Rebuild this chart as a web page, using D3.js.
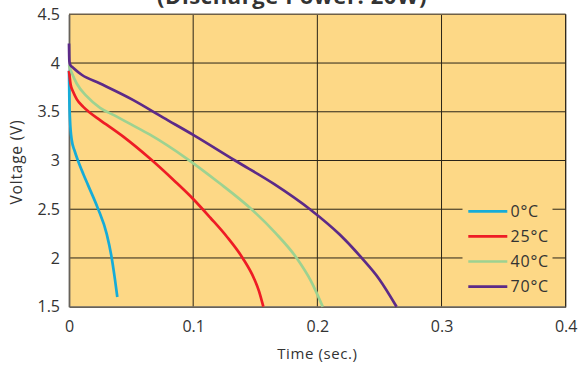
<!DOCTYPE html>
<html><head><meta charset="utf-8">
<script src="https://cdn.jsdelivr.net/npm/d3@7"></script>
<style>body{margin:0;background:#fff}svg{display:block}text{font-family:"Open Sans",sans-serif;fill:#333}</style>
</head><body><svg id="c" width="581" height="367"></svg>
<script>
const title = "(Discharge Power: 20W)";
const xLabel = "Time (sec.)";
const yLabel = "Voltage (V)";
const xTicks = [0, 0.1, 0.2, 0.3, 0.4];
const yTicks = [1.5, 2, 2.5, 3, 3.5, 4, 4.5];
const seriesNames = ["0°C", "25°C", "40°C", "70°C"];
const colors = ["#16acd8", "#ee1c25", "#9dd291", "#5c2a88"];

const t0 = [0, 0.0003, 0.0008, 0.0022, 0.0045, 0.0075, 0.0115, 0.0155, 0.0231, 0.0304, 0.0344, 0.037, 0.0389];
const v0 = [3.92, 3.62, 3.42, 3.21, 3.1, 2.99, 2.862, 2.742, 2.514, 2.244, 2.0, 1.78, 1.6];
const t25 = [0, 0.0013, 0.0035, 0.0062, 0.0115, 0.0169, 0.025, 0.0437, 0.0652, 0.085, 0.1, 0.114, 0.127, 0.1398, 0.149, 0.153, 0.1565];
const v25 = [3.92, 3.78, 3.7, 3.63, 3.55, 3.49, 3.415, 3.245, 3.02, 2.79, 2.605, 2.41, 2.22, 2.0, 1.79, 1.66, 1.5];
const t40 = [0, 0.001, 0.0022, 0.0062, 0.0142, 0.025, 0.037, 0.05, 0.0652, 0.0948, 0.12, 0.147, 0.166, 0.1833, 0.195, 0.2043];
const v40 = [3.98, 3.94, 3.9, 3.79, 3.66, 3.54, 3.46, 3.37, 3.265, 3.02, 2.78, 2.5, 2.26, 2.0, 1.76, 1.5];
const t70 = [0, 0.0003, 0.001, 0.0035, 0.0102, 0.025, 0.0518, 0.0759, 0.1, 0.1337, 0.165, 0.194, 0.218, 0.2357, 0.25, 0.2638];
const v70 = [4.2, 4.02, 3.98, 3.95, 3.88, 3.79, 3.62, 3.44, 3.263, 3.0, 2.76, 2.5, 2.24, 2.0, 1.78, 1.5];

const seriesT = [t0, t25, t40, t70];
const seriesV = [v0, v25, v40, v70];

const svg = d3.select("#c");
const m = {l: 69, r: 15.3, t: 14.3, b: 60.3};
const W = 581, H = 367;
const x = d3.scaleLinear().domain([0, 0.4]).range([m.l, W - m.r]);
const y = d3.scaleLinear().domain([1.5, 4.5]).range([H - m.b, m.t]);

// background
svg.append("rect").attr("x", x(0)).attr("y", y(4.5)).attr("width", x(0.4) - x(0)).attr("height", y(1.5) - y(4.5)).attr("fill", "#fdd886");

// grid
const g = svg.append("g");
g.selectAll("line.v").data(xTicks.slice(1)).join("line")
  .attr("x1", d => x(d)).attr("x2", d => x(d)).attr("y1", y(4.5)).attr("y2", y(1.5))
  .attr("stroke", "#2a2418").attr("stroke-width", 1);
g.selectAll("line.h").data(yTicks.slice(1, -1)).join("line")
  .attr("x1", x(0)).attr("x2", x(0.4)).attr("y1", d => y(d)).attr("y2", d => y(d))
  .attr("stroke", "#2a2418").attr("stroke-width", 1);
// top border
svg.append("line").attr("x1", x(0)).attr("x2", x(0.4)).attr("y1", y(4.5)).attr("y2", y(4.5)).attr("stroke", "#6e6048").attr("stroke-width", 1.6);

// legend box (covers grid)
const legX = 462.5, legY = 197;
svg.append("rect").attr("x", legX).attr("y", legY).attr("width", 90).attr("height", 102).attr("fill", "#fdd886");

// axes
const xAxis = d3.axisBottom(x).tickValues(xTicks).tickSize(0).tickPadding(14).tickFormat(d => d === 0 ? "0" : d3.format(".1f")(d));
const yAxis = d3.axisLeft(y).tickValues(yTicks).tickSize(0).tickPadding(9).tickFormat(d => String(d));
const gx = svg.append("g").attr("transform", `translate(0,${y(1.5)})`).call(xAxis);
const gy = svg.append("g").attr("transform", `translate(${x(0)},0)`).call(yAxis);
[gx, gy].forEach(a => {
  a.select(".domain").attr("stroke", "#66625a").attr("stroke-width", 1.8);
  a.selectAll("text").attr("font-size", 16).attr("fill", "#333").attr("font-family", '"Open Sans",sans-serif');
});

// lines
const line = d3.line().x(d => x(d[0])).y(d => y(d[1])).curve(d3.curveMonotoneX);
seriesT.forEach((ts, i) => {
  const pts = ts.map((t, j) => [t, seriesV[i][j]]);
  svg.append("path").attr("d", line(pts)).attr("fill", "none").attr("stroke", colors[i]).attr("stroke-width", 2.7).attr("stroke-linecap", "butt");
});

// legend
seriesNames.forEach((n, i) => {
  const yy = 211.3 + i * 25.1;
  svg.append("line").attr("x1", 468.3).attr("x2", 507.3).attr("y1", yy).attr("y2", yy).attr("stroke", colors[i]).attr("stroke-width", 2.7);
  svg.append("text").attr("x", 510.5).attr("y", yy + 5.5).attr("font-size", 16).attr("letter-spacing", 0.8).text(n);
});

// labels
svg.append("text").attr("x", x(0.2)).attr("y", 359).attr("text-anchor", "middle").attr("font-size", 15).attr("letter-spacing", 0.6).text(xLabel);
svg.append("text").attr("transform", `translate(21.5,162) rotate(-90)`).attr("text-anchor", "middle").attr("font-size", 15.5).attr("letter-spacing", 0.8).text(yLabel);
svg.append("text").attr("x", 292).attr("y", 4).attr("text-anchor", "middle").attr("font-size", 22).attr("letter-spacing", 0.6).attr("font-weight", "bold").attr("fill", "#222").text(title);
// right border
svg.append("line").attr("x1", x(0.4)).attr("x2", x(0.4)).attr("y1", y(4.5)).attr("y2", y(1.5)).attr("stroke", "#2a2418").attr("stroke-width", 1);
</script></body></html>
